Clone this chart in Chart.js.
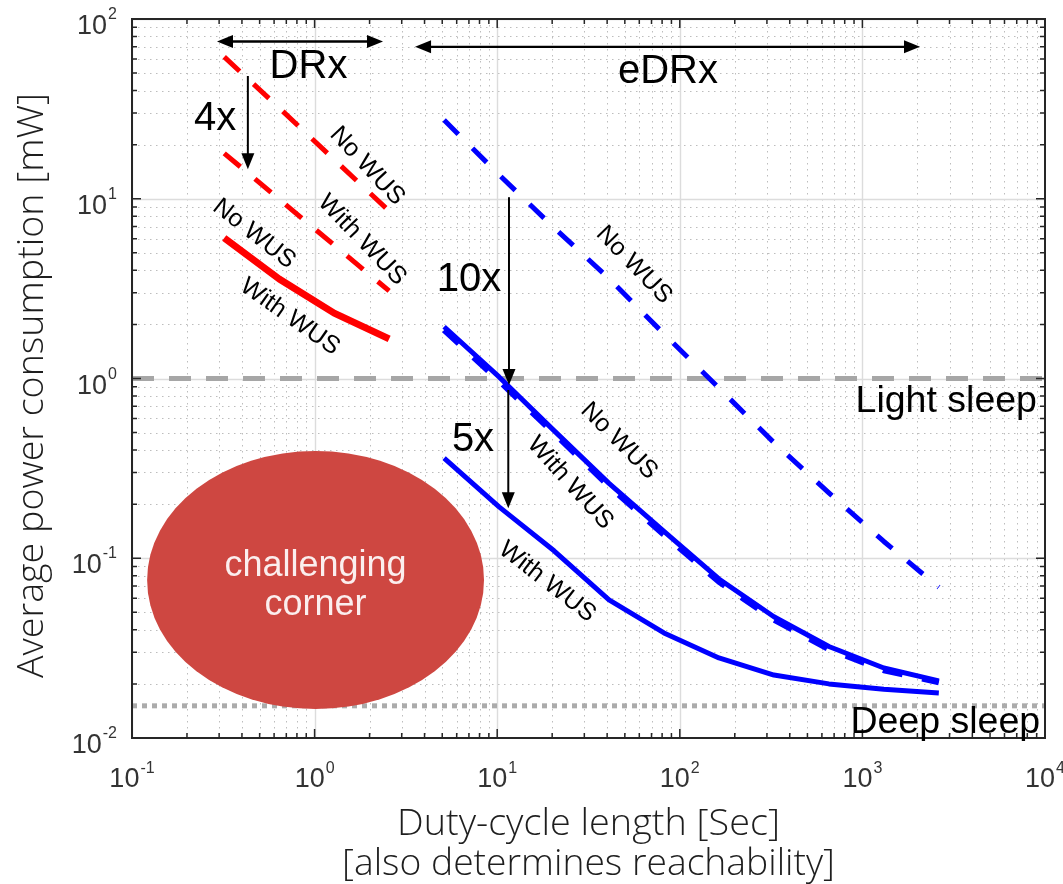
<!DOCTYPE html>
<html><head><meta charset="utf-8">
<script src="https://cdn.jsdelivr.net/npm/chart.js@4.4.1/dist/chart.umd.min.js"></script>
<style>html,body{margin:0;padding:0;background:#fff}#wrap{width:1063px;height:884px}canvas{display:block}</style>
</head><body><div id="wrap"><canvas id="c" width="1063" height="884"></canvas></div>
<script>
// ---------- data ----------
const drxCycles = [0.32, 0.64, 1.28, 2.56];
const edrxCycles = [5.12, 10.24, 20.48, 40.96, 81.92, 163.84, 327.68, 655.36, 1310.72, 2621.44];
const drxUpperNoWus = [61.5, 32.0, 16.5, 8.55];
const drxUpperWithWus = [17.9, 9.94, 5.52, 3.07];
const drxLower = [6.05, 3.58, 2.31, 1.66];
const edrxUpperNoWus = [27.4, 13.6, 6.9, 3.6, 1.77, 0.885, 0.44, 0.231, 0.124, 0.069];
const edrxMidNoWus = [1.94, 1.02, 0.513, 0.261, 0.141, 0.0767, 0.0473, 0.0323, 0.0245, 0.0208];
const edrxMidWithWus = [1.86, 0.97, 0.495, 0.252, 0.135, 0.074, 0.0455, 0.0312, 0.0238, 0.0204];
const edrxLowerWithWus = [0.361, 0.193, 0.110, 0.0586, 0.0384, 0.0279, 0.0224, 0.0200, 0.0187, 0.0178];
const lightSleepLevel = 1.0;
const deepSleepLevel = 0.0151;
const xRange = [0.1, 10000];
const yRange = [0.01, 100];
const xTickExps = [-1, 0, 1, 2, 3, 4];
const yTickExps = [-2, -1, 0, 1, 2];
const xTitle = ['Duty-cycle length [Sec]', '[also determines reachability]'];
const yTitle = 'Average power consumption [mW]';

// annotations (in data units)
const curveLabels = [
  {text: 'No WUS', x: 1.94, y: 15.2, angle: 47},
  {text: 'With WUS', x: 1.82, y: 5.90, angle: 46},
  {text: 'No WUS', x: 0.466, y: 6.37, angle: 38},
  {text: 'With WUS', x: 0.733, y: 2.20, angle: 35},
  {text: 'No WUS', x: 56.1, y: 4.28, angle: 46},
  {text: 'No WUS', x: 46.5, y: 0.449, angle: 45},
  {text: 'With WUS', x: 25.1, y: 0.262, angle: 48},
  {text: 'With WUS', x: 18.8, y: 0.0738, angle: 38}
];
const levelLabels = [
  {text: 'Light sleep', x: 9036, y: 0.651},
  {text: 'Deep sleep', x: 9400, y: 0.01066}
];
const rangeArrows = [
  {x1: 0.292, x2: 2.37, y: 75},
  {x1: 3.55, x2: 2068, y: 70}
];
const rangeLabels = [
  {text: 'DRx', x: 0.926, y: 54.4},
  {text: 'eDRx', x: 86.1, y: 50.7}
];
const factorArrows = [
  {x: 0.431, y1: 48.2, y2: 14.6},
  {x: 11.6, y1: 10.2, y2: 0.92},
  {x: 11.5, y1: 0.863, y2: 0.19}
];
const factorLabels = [
  {text: '4x', x: 0.285, y: 27.8},
  {text: '10x', x: 7.01, y: 3.53},
  {text: '5x', x: 7.37, y: 0.455}
];
const corner = {xMin: 0.121, xMax: 8.47, yMin: 0.01449, yMax: 0.395, lines: ['challenging', 'corner']};

// ---------- helpers ----------
const pts = (xs, ys) => xs.map((x, i) => ({x: x, y: ys[i]}));
const RED = '#ff0000', BLUE = '#0000ff', GRAY = '#a6a6a6';
const SANS = "'Liberation Sans', Arial, sans-serif";
const LIGHT = "'Open Sans', 'Noto Sans', sans-serif";

function arrowHead(ctx, x, y, ang, len, half) {
  ctx.beginPath();
  ctx.moveTo(x, y);
  ctx.lineTo(x - len * Math.cos(ang) + half * Math.sin(ang), y - len * Math.sin(ang) - half * Math.cos(ang));
  ctx.lineTo(x - len * Math.cos(ang) - half * Math.sin(ang), y - len * Math.sin(ang) + half * Math.cos(ang));
  ctx.closePath();
  ctx.fill();
}
function arrow(ctx, x1, y1, x2, y2, both) {
  const ang = Math.atan2(y2 - y1, x2 - x1);
  const L = 15, H = 6.5;
  ctx.beginPath();
  ctx.moveTo(both ? x1 + L * Math.cos(ang) : x1, both ? y1 + L * Math.sin(ang) : y1);
  ctx.lineTo(x2 - L * Math.cos(ang), y2 - L * Math.sin(ang));
  ctx.stroke();
  arrowHead(ctx, x2, y2, ang, L + 1, H);
  if (both) arrowHead(ctx, x1, y1, ang + Math.PI, L + 1, H);
}
// draws text with a horizontal squeeze so that it spans exactly `target` px
function squeezedText(ctx, text, x, y, target) {
  const w = ctx.measureText(text).width;
  ctx.save();
  ctx.translate(x, y);
  ctx.scale(target / w, 1);
  ctx.fillText(text, 0, 0);
  ctx.restore();
}

const decor = {
  id: 'decor',
  beforeDatasetsDraw(chart) {
    const {ctx, chartArea: a, scales: {x, y}} = chart;
    ctx.save();
    ctx.beginPath(); ctx.rect(a.left, a.top, a.right - a.left, a.bottom - a.top); ctx.clip();
    // minor grid
    ctx.strokeStyle = '#bdbdbd'; ctx.lineWidth = 1; ctx.setLineDash([1.5, 4.5]);
    for (let d = -1; d < 4; d++) for (let m = 2; m <= 9; m++) {
      const X = Math.round(x.getPixelForValue(m * Math.pow(10, d))) + 0.5;
      ctx.beginPath(); ctx.moveTo(X, a.top); ctx.lineTo(X, a.bottom); ctx.stroke();
    }
    for (let d = -2; d < 2; d++) for (let m = 2; m <= 9; m++) {
      const Y = Math.round(y.getPixelForValue(m * Math.pow(10, d))) + 0.5;
      ctx.beginPath(); ctx.moveTo(a.left, Y); ctx.lineTo(a.right, Y); ctx.stroke();
    }
    // major grid
    ctx.setLineDash([]); ctx.strokeStyle = '#dcdcdc'; ctx.lineWidth = 1.4;
    xTickExps.forEach(e => {
      const X = Math.round(x.getPixelForValue(Math.pow(10, e))) + 0.5;
      ctx.beginPath(); ctx.moveTo(X, a.top); ctx.lineTo(X, a.bottom); ctx.stroke();
    });
    yTickExps.forEach(e => {
      const Y = Math.round(y.getPixelForValue(Math.pow(10, e))) + 0.5;
      ctx.beginPath(); ctx.moveTo(a.left, Y); ctx.lineTo(a.right, Y); ctx.stroke();
    });
    ctx.restore();
  },
  afterDatasetDraw(chart, args) {
    const ds = chart.data.datasets[args.index];
    if (ds.id !== 'deep') return;
    const {ctx, scales: {x, y}} = chart;
    const l = x.getPixelForValue(corner.xMin), r = x.getPixelForValue(corner.xMax);
    const t = y.getPixelForValue(corner.yMax), b = y.getPixelForValue(corner.yMin);
    const cx = (l + r) / 2, cy = (t + b) / 2;
    ctx.save();
    ctx.fillStyle = '#ce4741';
    ctx.beginPath(); ctx.ellipse(cx, cy, (r - l) / 2, (b - t) / 2, 0, 0, Math.PI * 2); ctx.fill();
    ctx.fillStyle = '#fbeeee';
    ctx.font = '36px ' + SANS; ctx.textAlign = 'center'; ctx.textBaseline = 'middle';
    ctx.fillText(corner.lines[0], cx, cy - 14);
    ctx.fillText(corner.lines[1], cx, cy + 25);
    ctx.restore();
  },
  afterDraw(chart) {
    const {ctx, chartArea: a, scales: {x, y}} = chart;
    ctx.save();
    // curve labels
    ctx.fillStyle = '#000'; ctx.font = '25px ' + SANS; ctx.textAlign = 'center'; ctx.textBaseline = 'middle';
    curveLabels.forEach(c => {
      ctx.save();
      ctx.translate(x.getPixelForValue(c.x), y.getPixelForValue(c.y));
      ctx.rotate(c.angle * Math.PI / 180);
      ctx.fillText(c.text, 0, 0);
      ctx.restore();
    });
    // arrows
    ctx.strokeStyle = '#000'; ctx.fillStyle = '#000'; ctx.lineWidth = 2.4;
    rangeArrows.forEach(r => {
      const Y = y.getPixelForValue(r.y);
      arrow(ctx, x.getPixelForValue(r.x1), Y, x.getPixelForValue(r.x2), Y, true);
    });
    ctx.lineWidth = 2;
    factorArrows.forEach(f => {
      const X = x.getPixelForValue(f.x);
      arrow(ctx, X, y.getPixelForValue(f.y1), X, y.getPixelForValue(f.y2), false);
    });
    ctx.font = '40px ' + SANS;
    rangeLabels.concat(factorLabels).forEach(t => {
      ctx.fillText(t.text, x.getPixelForValue(t.x), y.getPixelForValue(t.y));
    });
    // box + ticks
    ctx.strokeStyle = '#262626'; ctx.lineWidth = 2;
    ctx.strokeRect(a.left, a.top, a.right - a.left, a.bottom - a.top);
    ctx.lineWidth = 1.5;
    for (let d = -1; d < 4; d++) for (let m = 1; m <= 9; m++) {
      const X = x.getPixelForValue(m * Math.pow(10, d));
      const len = m === 1 ? 9 : 5;
      ctx.beginPath();
      ctx.moveTo(X, a.bottom); ctx.lineTo(X, a.bottom - len);
      ctx.moveTo(X, a.top); ctx.lineTo(X, a.top + len);
      ctx.stroke();
    }
    for (let d = -2; d < 2; d++) for (let m = 1; m <= 9; m++) {
      const Y = y.getPixelForValue(m * Math.pow(10, d));
      const len = m === 1 ? 9 : 5;
      ctx.beginPath();
      ctx.moveTo(a.left, Y); ctx.lineTo(a.left + len, Y);
      ctx.moveTo(a.right, Y); ctx.lineTo(a.right - len, Y);
      ctx.stroke();
    }
    // level labels (over the frame)
    ctx.fillStyle = '#000'; ctx.font = '37.5px ' + SANS; ctx.textAlign = 'right'; ctx.textBaseline = 'alphabetic';
    levelLabels.forEach(l => ctx.fillText(l.text, x.getPixelForValue(l.x), y.getPixelForValue(l.y)));
    // tick labels
    const mainF = '27px ' + SANS, supF = '16px ' + SANS;
    ctx.fillStyle = '#333'; ctx.textAlign = 'left'; ctx.textBaseline = 'alphabetic';
    xTickExps.forEach(e => {
      const X = x.getPixelForValue(Math.pow(10, e));
      ctx.font = mainF; const w1 = ctx.measureText('10').width;
      ctx.font = supF; const w2 = ctx.measureText(String(e)).width;
      const left = X - (w1 + w2 + 1) / 2;
      ctx.font = mainF; ctx.fillText('10', left, a.bottom + 49);
      ctx.font = supF; ctx.fillText(String(e), left + w1 + 1, a.bottom + 35);
    });
    yTickExps.forEach(e => {
      const Y = y.getPixelForValue(Math.pow(10, e));
      ctx.font = mainF; const w1 = ctx.measureText('10').width;
      ctx.font = supF; const w2 = ctx.measureText(String(e)).width;
      const right = a.left - 15;
      ctx.font = supF; ctx.fillText(String(e), right - w2, Y);
      ctx.font = mainF; ctx.fillText('10', right - w2 - 1 - w1, Y + 15);
    });
    // axis titles (light, slightly condensed)
    ctx.fillStyle = '#1e1e1e'; ctx.textAlign = 'left'; ctx.textBaseline = 'middle';
    ctx.font = '300 37px ' + LIGHT;
    const cxm = (a.left + a.right) / 2;
    squeezedText(ctx, xTitle[0], cxm - 383 / 2, a.bottom + 86, 383);
    squeezedText(ctx, xTitle[1], cxm - 493 / 2, a.bottom + 126, 493);
    ctx.font = '300 36px ' + LIGHT;
    ctx.textBaseline = 'alphabetic';
    ctx.translate(43, 385.5); ctx.rotate(-Math.PI / 2);
    squeezedText(ctx, yTitle, -585 / 2, 0, 585);
    ctx.restore();
  }
};

const lineDs = (id, xs, ys, color, width, dash, order) => ({
  id: id, label: id, data: pts(xs, ys), borderColor: color, backgroundColor: color,
  borderWidth: width, borderDash: dash, order: order, fill: false,
  pointRadius: 0, borderCapStyle: 'butt', borderJoinStyle: 'round'
});

new Chart(document.getElementById('c'), {
  type: 'line',
  data: {
    datasets: [
      lineDs('drxUpperNoWus', drxCycles, drxUpperNoWus, RED, 5, [21, 19], 1),
      lineDs('drxUpperWithWus', drxCycles, drxUpperWithWus, RED, 5, [21, 19], 1),
      lineDs('drxLower', drxCycles, drxLower, RED, 7, [], 1),
      lineDs('edrxUpperNoWus', edrxCycles, edrxUpperNoWus, BLUE, 5, [20, 20], 1),
      lineDs('edrxMidNoWus', edrxCycles, edrxMidNoWus, BLUE, 5, [], 1),
      lineDs('edrxMidWithWus', edrxCycles, edrxMidWithWus, BLUE, 6, [20, 20], 2),
      lineDs('edrxLowerWithWus', edrxCycles, edrxLowerWithWus, BLUE, 5, [], 1),
      lineDs('light', xRange, [lightSleepLevel, lightSleepLevel], GRAY, 5, [22, 15], 10),
      lineDs('deep', xRange, [deepSleepLevel, deepSleepLevel], '#ababab', 5, [5, 5], 9)
    ]
  },
  options: {
    responsive: false, animation: false, events: [],
    layout: {padding: {left: 132, right: 18, top: 19, bottom: 146}},
    plugins: {legend: {display: false}, tooltip: {enabled: false}},
    scales: {
      x: {type: 'logarithmic', min: xRange[0], max: xRange[1], display: false},
      y: {type: 'logarithmic', min: yRange[0], max: yRange[1], display: false}
    }
  },
  plugins: [decor]
});
</script></body></html>
